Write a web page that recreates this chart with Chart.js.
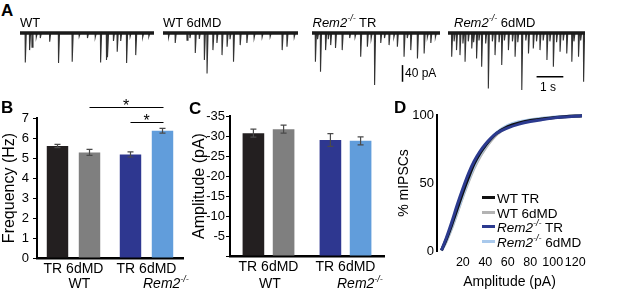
<!DOCTYPE html>
<html><head><meta charset="utf-8">
<script src="https://cdn.jsdelivr.net/npm/chart.js@4/dist/chart.umd.min.js"></script>
<style>
html,body{margin:0;padding:0;background:#fff;}
#fig{position:relative;width:617px;height:296px;overflow:hidden;font-family:'Liberation Sans',Arial,sans-serif;color:#000;background:#fff;}
canvas{position:absolute;}
.t{position:absolute;line-height:1;white-space:nowrap;}
.b{font-weight:bold;font-size:17px;}
.s13{font-size:13px;}
.s12{font-size:12px;}
.s14{font-size:14px;}
.sup{font-size:9px;position:relative;top:-6px;font-style:italic;}
.lg{position:absolute;left:482px;font-size:13.5px;line-height:1;white-space:nowrap;}
.sw{display:inline-block;width:13px;height:3px;vertical-align:4px;margin-right:2px;}
</style></head><body>
<div id="fig">
<canvas id="a0" width="134" height="100" style="left:20px;top:0"></canvas>
<canvas id="a1" width="135" height="100" style="left:163px;top:0"></canvas>
<canvas id="a2" width="128" height="100" style="left:312px;top:0"></canvas>
<canvas id="a3" width="137" height="100" style="left:448px;top:0"></canvas>
<canvas id="cb" width="192" height="206" style="left:0;top:90px"></canvas>
<canvas id="cc" width="200" height="206" style="left:190px;top:90px"></canvas>
<canvas id="cd" width="227" height="206" style="left:390px;top:90px"></canvas>

<div class="t b" style="left:1px;top:2px">A</div>
<div class="t b" style="left:1px;top:99px">B</div>
<div class="t b" style="left:189px;top:99.5px">C</div>
<div class="t b" style="left:394px;top:99px">D</div>

<div class="t s13" style="left:20px;top:15.5px">WT</div>
<div class="t s13" style="left:163px;top:15.5px">WT 6dMD</div>
<div class="t s13" style="left:312.5px;top:15.5px"><i>Rem2</i><span class="sup">-/-</span> TR</div>
<div class="t s13" style="left:454px;top:15.5px"><i>Rem2</i><span class="sup">-/-</span> 6dMD</div>
<div class="t s12" style="left:405px;top:66.6px">40 pA</div>
<div class="t s12" style="left:540px;top:81px">1 s</div>

<div class="t s14" style="left:68.5px;top:276px">WT</div>
<div class="t s14" style="left:143px;top:276px"><i>Rem2</i><span class="sup">-/-</span></div>
<div class="t s14" style="left:259px;top:276px">WT</div>
<div class="t s14" style="left:337px;top:276px"><i>Rem2</i><span class="sup">-/-</span></div>

<div class="lg" style="top:192px"><span class="sw" style="background:#111"></span>WT TR</div>
<div class="lg" style="top:206.5px"><span class="sw" style="background:#b3b3b3"></span>WT 6dMD</div>
<div class="lg" style="top:221px"><span class="sw" style="background:#2b3a8f"></span><i>Rem2</i><span class="sup">-/-</span> TR</div>
<div class="lg" style="top:235.5px"><span class="sw" style="background:#a9c9ec"></span><i>Rem2</i><span class="sup">-/-</span> 6dMD</div>
</div>
<script>
// ---------- DATA ----------
// Panel A: mIPSC traces (event times in s, amplitudes in pA, downward)
const traceDurations = [5.0, 5.05, 4.78, 5.12];
const wtTrTimes = [0.19,0.35,0.44,0.6,0.75,1.10,1.43,1.94,2.2,2.51,2.8,3.0,3.22,3.26,3.48,3.62,3.75,3.97,4.1,4.31,4.57,4.8];
const wtTrAmps  = [71,41,34,10,12,21,72,69,8,12,10,71,65,58,19,45,19,72,9,53,10,8];
const wt6Times  = [0.2,0.45,0.89,1.0,1.20,1.35,1.54,1.64,1.86,2.01,2.20,2.39,2.5,2.63,2.88,3.13,3.4,3.7,4.0,4.45,4.63,4.9];
const wt6Amps   = [10,24,17,12,48,14,65,97,41,24,53,33,15,69,29,24,12,10,9,41,33,10];
const remTrTimes = [0.12,0.2,0.31,0.50,0.6,0.69,0.87,1.12,1.4,1.6,1.81,2.06,2.2,2.33,2.56,2.7,2.87,3.05,3.18,3.43,3.55,3.68,3.93,4.18,4.3,4.43,4.6];
const remTrAmps  = [69,15,93,41,15,29,36,41,12,10,57,33,14,125,24,12,29,10,33,57,12,41,61,49,10,24,10];
const rem6Times = [0.13,0.22,0.31,0.44,0.55,0.63,0.75,0.88,0.95,1.06,1.15,1.25,1.4,1.50,1.65,1.75,1.9,2.0,2.1,2.25,2.4,2.5,2.6,2.75,2.9,3.0,3.18,3.3,3.43,3.55,3.69,3.8,3.93,4.05,4.18,4.3,4.43,4.62,4.7,4.87,4.95,5.06];
const rem6Amps  = [57,20,41,53,25,69,20,37,22,61,18,81,25,133,20,53,22,77,18,41,20,57,22,137,18,49,37,20,41,18,65,20,81,22,45,18,49,69,20,57,18,117];
const scaleBarPA = 40;   // pA
const scaleBarSec = 1;   // s

// Panels B & C
const groups = ['WT', 'Rem2-/-'];
const conditions = ['TR', '6dMD'];
const freqTR = [5.6, 5.18];   const freqTRErr = [0.08, 0.13];
const freq6d = [5.28, 6.36];  const freq6dErr = [0.15, 0.12];
const ampTR  = [-30.7, -29.0]; const ampTRErr = [1.0, 1.6];
const amp6d  = [-31.7, -28.8]; const amp6dErr = [1.0, 1.0];
const freqTicks = [0,1,2,3,4,5,6,7];
const ampTicks = [-35,-30,-25,-20,-15,-10,-5,0];

// Panel D: cumulative distributions
const cdfAmp = [1,5,10,15,20,25,30,35,40,45,50,60,70,80,90,100,110,120,126];
const cdfWtTR  = [0.5,8,19,31,43,54,64,71.5,77.5,82.5,86.5,91.5,94.2,95.9,97,98,98.7,99.2,99.4];
const cdfWt6d  = [0.3,6.5,16.5,28,40,51,61,69,75.5,81,85.5,91.3,94.3,96.1,97.2,98.1,98.7,99.2,99.4];
const cdfRemTR = [0.5,9,21,34,46,57,66,73,78.5,83,86.5,90.5,93.3,95.2,96.5,97.7,98.5,99.1,99.4];
const cdfRem6d = [0.3,7,17.5,29,41,52.5,62.5,70.5,77,82.5,87,92.3,95,96.6,97.6,98.4,98.9,99.3,99.5];
const cdfXTicks = [20,40,60,80,100,120];
const cdfYTicks = [0,50,100];

// ---------- STYLE ----------
Chart.defaults.font.family = "'Liberation Sans', Arial, sans-serif";
Chart.defaults.color = '#000';
const trColors = ['#231f20', '#2e3790'];
const sixColors = ['#7f7f7f', '#619ddb'];
const base = {responsive:false, animation:false, devicePixelRatio:1, events:[],
  plugins:{legend:{display:false}, tooltip:{enabled:false}}};

// ---------- Panel A ----------
const scaleBarPlugin = {
  id:'scalebar',
  afterDraw(chart, args, o){
    const ctx = chart.ctx, xs = chart.scales.x, ys = chart.scales.y;
    ctx.save(); ctx.strokeStyle = '#000'; ctx.lineWidth = 1.5;
    if (o.v){ const x = xs.getPixelForValue(o.v.t);
      ctx.beginPath(); ctx.moveTo(x, ys.getPixelForValue(o.v.y)); ctx.lineTo(x, ys.getPixelForValue(o.v.y - scaleBarPA)); ctx.stroke(); }
    if (o.h){ const y = ys.getPixelForValue(o.h.y);
      ctx.beginPath(); ctx.moveTo(xs.getPixelForValue(o.h.t), y); ctx.lineTo(xs.getPixelForValue(o.h.t + scaleBarSec), y); ctx.stroke(); }
    ctx.restore();
  }
};
function traceChart(id, times, amps, dur, bar){
  const pts = [{x:0, y:0}];
  times.forEach((t,i)=>{ pts.push({x:t,y:0},{x:t+0.008,y:-amps[i]},{x:t+0.045,y:0}); });
  pts.push({x:dur, y:0});
  new Chart(document.getElementById(id), {
    type:'line',
    data:{datasets:[
      {data:pts, borderColor:'#333', borderWidth:1.1, pointRadius:0, tension:0, order:2},
      {data:[{x:0,y:0},{x:dur,y:0}], borderColor:'#1a1a1a', borderWidth:3.5, pointRadius:0, order:1}
    ]},
    options:Object.assign({}, base, {
      layout:{padding:{top:24.7, bottom:4.5, left:0, right:0}},
      scales:{x:{type:'linear', display:false, min:0, max:dur}, y:{display:false, min:-150, max:20}},
      plugins:Object.assign({}, base.plugins, {scalebar: bar || {}})
    }),
    plugins:[scaleBarPlugin]
  });
}
traceChart('a0', wtTrTimes, wtTrAmps, traceDurations[0]);
traceChart('a1', wt6Times, wt6Amps, traceDurations[1]);
traceChart('a2', remTrTimes, remTrAmps, traceDurations[2], {v:{t:3.38, y:-77}});
traceChart('a3', rem6Times, rem6Amps, traceDurations[3], {h:{t:3.31, y:-105}});

// ---------- Panels B, C ----------
const errPlugin = {
  id:'errbars',
  afterDatasetsDraw(chart){
    const ctx = chart.ctx, ys = chart.scales.y;
    ctx.save(); ctx.strokeStyle = '#4a4a4a'; ctx.lineWidth = 1.2;
    chart.data.datasets.forEach((ds, di)=>{
      chart.getDatasetMeta(di).data.forEach((el, i)=>{
        const v = ds.data[i], e = ds.errors[i];
        const y1 = ys.getPixelForValue(v - e), y2 = ys.getPixelForValue(v + e);
        ctx.beginPath();
        ctx.moveTo(el.x, y1); ctx.lineTo(el.x, y2);
        ctx.moveTo(el.x-3, y1); ctx.lineTo(el.x+3, y1);
        ctx.moveTo(el.x-3, y2); ctx.lineTo(el.x+3, y2);
        ctx.stroke();
      });
    });
    ctx.restore();
  }
};
const sigPlugin = {
  id:'sig',
  afterDatasetsDraw(chart, args, o){
    if (!o.brackets) return;
    const ctx = chart.ctx, ys = chart.scales.y;
    ctx.save(); ctx.strokeStyle = '#000'; ctx.fillStyle = '#000'; ctx.lineWidth = 1;
    ctx.font = "16px 'Liberation Sans', Arial, sans-serif"; ctx.textAlign = 'center'; ctx.textBaseline = 'alphabetic';
    o.brackets.forEach(b=>{
      const xa = chart.getDatasetMeta(b.a[0]).data[b.a[1]].x;
      const xb = chart.getDatasetMeta(b.b[0]).data[b.b[1]].x;
      const y = Math.round(ys.getPixelForValue(b.level)) + 0.5;
      ctx.beginPath(); ctx.moveTo(xa, y); ctx.lineTo(xb + 1, y); ctx.stroke();
      ctx.fillText('*', (xa + xb) / 2, y + 3);
    });
    ctx.restore();
  }
};
function barChart(id, tr, trE, six, sixE, yScale, pad, yWidth, xHeight, catPct, barPct, sig){
  new Chart(document.getElementById(id), {
    type:'bar',
    data:{labels: groups.map(()=>conditions.join(' ')), datasets:[
      {label:conditions[0], data:tr, errors:trE, backgroundColor:trColors, categoryPercentage:catPct, barPercentage:barPct},
      {label:conditions[1], data:six, errors:sixE, backgroundColor:sixColors, categoryPercentage:catPct, barPercentage:barPct}
    ]},
    options:Object.assign({}, base, {
      layout:{padding:pad},
      scales:{
        x:{grid:{display:false, drawTicks:false}, border:{display:true, color:'#000', width:2.5},
           ticks:{color:'#000', font:{size:14}, padding:3, maxRotation:0}, afterFit:s=>{s.height = xHeight;}},
        y:Object.assign({grid:{display:true, drawOnChartArea:false, drawTicks:true, tickLength:4, color:'#000'},
           border:{display:true, color:'#000', width:2}, afterFit:s=>{s.width = yWidth;}}, yScale)
      },
      plugins:Object.assign({}, base.plugins, {sig: sig || {}})
    }),
    plugins:[errPlugin, sigPlugin]
  });
}
barChart('cb', freqTR, freqTRErr, freq6d, freq6dErr,
  {min:0, max:7, afterBuildTicks:s=>{s.ticks = freqTicks.map(v=>({value:v}));},
   ticks:{color:'#000', font:{size:13}, padding:4},
   title:{display:true, text:'Frequency (Hz)', font:{size:16}, color:'#000', padding:0}},
  {top:28, right:9, left:0, bottom:0}, 37, 38, 0.877, 0.67,
  {brackets:[{a:[1,0], b:[1,1], level:7.53}, {a:[0,1], b:[1,1], level:6.8}]});
barChart('cc', ampTR, ampTRErr, amp6d, amp6dErr,
  {min:-35, max:0, reverse:true, afterBuildTicks:s=>{s.ticks = ampTicks.map(v=>({value:v}));},
   ticks:{color:'#000', font:{size:13}, padding:1, callback:v=> v === 0 ? '' : String(v)},
   title:{display:true, text:'Amplitude (pA)', font:{size:16}, color:'#000', padding:0}},
  {top:26, right:6, left:0, bottom:0}, 40, 40, 0.784, 0.717, null);

// ---------- Panel D ----------
function cdfSet(vals, color, order){
  return {data: cdfAmp.map((a,i)=>({x:a, y:vals[i]})), borderColor:color, borderWidth:3, pointRadius:0,
          cubicInterpolationMode:'monotone', order:order, clip:4};
}
new Chart(document.getElementById('cd'), {
  type:'line',
  data:{datasets:[
    cdfSet(cdfWt6d, '#b3b3b3', 4),
    cdfSet(cdfRem6d, '#a9c9ec', 3),
    cdfSet(cdfWtTR, '#111111', 2),
    cdfSet(cdfRemTR, '#2b3a8f', 1)
  ]},
  options:Object.assign({}, base, {
    layout:{padding:{top:25, right:35, left:0, bottom:0}},
    scales:{
      x:{type:'linear', min:-3, max:126, afterBuildTicks:s=>{s.ticks = cdfXTicks.map(v=>({value:v}));},
         grid:{display:false, drawTicks:false}, border:{display:false},
         ticks:{color:'#000', font:{size:12.5}, padding:4, maxRotation:0, autoSkip:false},
         title:{display:true, text:'Amplitude (pA)', font:{size:14}, color:'#000', padding:{top:0, bottom:5}},
         afterFit:s=>{s.height = 45;}},
      y:{min:0, max:100, afterBuildTicks:s=>{s.ticks = cdfYTicks.map(v=>({value:v}));},
         grid:{display:false, drawTicks:false}, border:{display:true, color:'#000', width:2},
         ticks:{color:'#000', font:{size:13}, padding:3},
         title:{display:true, text:'% mIPSCs', font:{size:14}, color:'#000', padding:{top:6, bottom:0}},
         afterFit:s=>{s.width = 47;}}
    }
  })
});
</script>
</body></html>
